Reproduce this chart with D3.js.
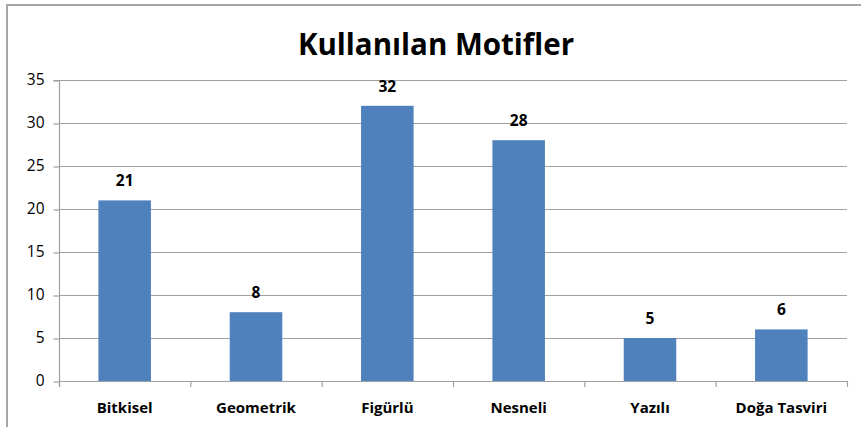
<!DOCTYPE html>
<html>
<head>
<meta charset="utf-8">
<script src="https://cdn.jsdelivr.net/npm/d3@7/dist/d3.min.js"></script>
<style>
  html, body { margin: 0; padding: 0; background: #fff; }
  svg { display: block; }
  text { font-family: "Open Sans", "DejaVu Sans", sans-serif; fill: #000; }
</style>
</head>
<body>
<svg id="chart" width="861" height="427"></svg>
<script>
const title = "Kullanılan Motifler";
const categories = ["Bitkisel", "Geometrik", "Figürlü", "Nesneli", "Yazılı", "Doğa Tasviri"];
const values = [21, 8, 32, 28, 5, 6];
const yTicks = [0, 5, 10, 15, 20, 25, 30, 35];

const svg = d3.select("#chart");
const W = 861, H = 427;
const plot = { left: 59, right: 847, top: 80, bottom: 381 };

// outer chart frame (runs past the right and bottom edges)
svg.append("rect")
  .attr("x", 7).attr("y", 5)
  .attr("width", W + 10).attr("height", H + 10)
  .attr("fill", "#fff")
  .attr("stroke", "#a6a6a6")
  .attr("stroke-width", 2);

const x = d3.scaleBand()
  .domain(categories)
  .range([plot.left, plot.right])
  .padding(0);

const y = d3.scaleLinear()
  .domain([0, 35])
  .range([plot.bottom, plot.top]);

// horizontal gridlines
svg.append("g")
  .selectAll("line")
  .data(yTicks.filter(d => d > 0))
  .join("line")
  .attr("x1", plot.left).attr("x2", plot.right)
  .attr("y1", d => y(d) + 0.5).attr("y2", d => y(d) + 0.5)
  .attr("stroke", "#a0a0a0")
  .attr("stroke-width", 1.2);

// bars
const barW = x.bandwidth() * 0.4;
svg.append("g")
  .selectAll("rect")
  .data(values)
  .join("rect")
  .attr("x", (d, i) => x(categories[i]) + (x.bandwidth() - barW) / 2)
  .attr("y", d => y(d))
  .attr("width", barW)
  .attr("height", d => y(0) - y(d))
  .attr("fill", "#4f81bd");

// value labels
svg.append("g")
  .selectAll("text")
  .data(values)
  .join("text")
  .attr("x", (d, i) => x(categories[i]) + x.bandwidth() / 2)
  .attr("y", d => y(d) - 14)
  .attr("text-anchor", "middle")
  .attr("font-size", 15.5)
  .attr("font-weight", 700)
  .text(d => d);

// y axis
const yAxis = d3.axisLeft(y).tickValues(yTicks).tickSize(6).tickPadding(9);
const gy = svg.append("g")
  .attr("transform", `translate(${plot.left + 0.5},0)`)
  .call(yAxis);
gy.select(".domain").attr("stroke", "#a0a0a0").attr("stroke-width", 1.2)
  .attr("d", `M-6,${plot.top + 0.5}H0V${plot.bottom + 6}`);
gy.selectAll(".tick line").attr("stroke", "#a0a0a0").attr("stroke-width", 1.2)
  .attr("transform", "translate(0,0.5)");
gy.selectAll(".tick text")
  .attr("font-size", 15.5)
  .attr("font-family", "\"Open Sans\", sans-serif")
  .attr("fill", "#000");

// x axis
const xAxis = d3.axisBottom(x).tickSize(0).tickPadding(21);
const gx = svg.append("g")
  .attr("transform", `translate(0,${plot.bottom + 0.5})`)
  .call(xAxis);
gx.select(".domain").attr("stroke", "#a0a0a0").attr("stroke-width", 1.2)
  .attr("d", `M${plot.left},0H${plot.right}`);
gx.selectAll(".tick text")
  .attr("font-size", 15)
  .attr("font-weight", 700)
  .attr("font-family", "\"Open Sans\", sans-serif")
  .attr("fill", "#000");

// category boundary ticks below the axis
svg.append("g")
  .selectAll("line")
  .data(d3.range(categories.length + 1))
  .join("line")
  .attr("x1", i => plot.left + i * x.step() + 0.5)
  .attr("x2", i => plot.left + i * x.step() + 0.5)
  .attr("y1", plot.bottom)
  .attr("y2", plot.bottom + 6)
  .attr("stroke", "#a0a0a0")
  .attr("stroke-width", 1.2);

// title
svg.append("text")
  .attr("x", 436)
  .attr("y", 55)
  .attr("text-anchor", "middle")
  .attr("font-size", 29.5)
  .attr("font-weight", 700)
  .text(title);
</script>
</body>
</html>
